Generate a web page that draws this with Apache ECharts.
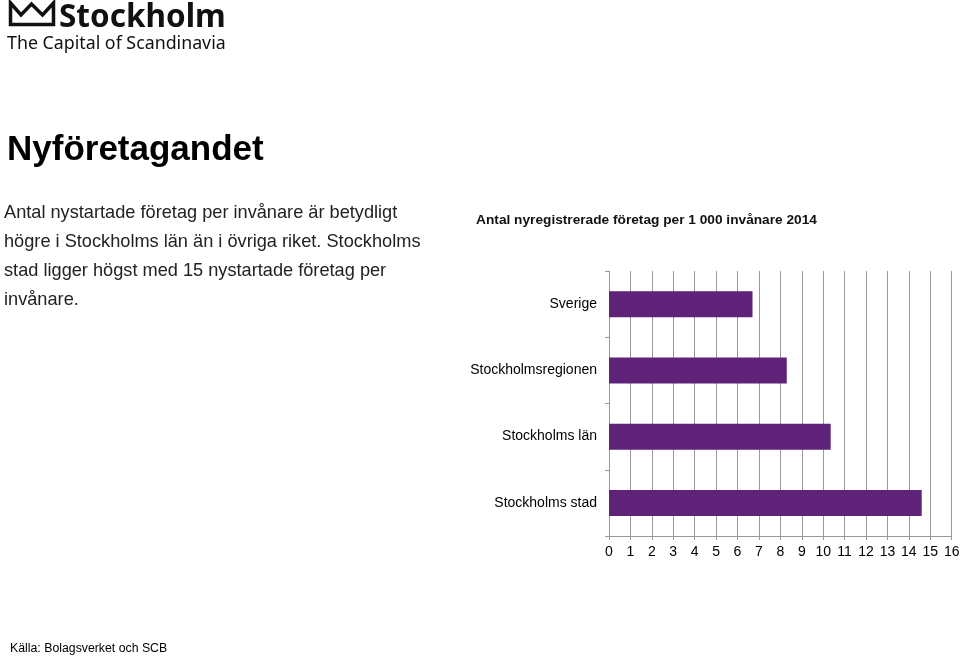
<!DOCTYPE html>
<html>
<head>
<meta charset="utf-8">
<style>
html,body{margin:0;padding:0;background:#fff;}
#chart{width:960px;height:658px;}
</style>
<script src="https://cdn.jsdelivr.net/npm/echarts@6/dist/echarts.min.js"></script>
</head>
<body>
<div id="chart"></div>
<script>
const categories = ['Sverige', 'Stockholmsregionen', 'Stockholms län', 'Stockholms stad'];
const values = [6.7, 8.3, 10.35, 14.6];
const xTicks = {min: 0, max: 16, interval: 1};
const headline = 'Nyföretagandet';
const paragraphLines = [
  'Antal nystartade företag per invånare är betydligt',
  'högre i Stockholms län än i övriga riket. Stockholms',
  'stad ligger högst med 15 nystartade företag per',
  'invånare.'
];
const chartTitle = 'Antal nyregistrerade företag per 1 000 invånare 2014';
const sourceText = 'Källa: Bolagsverket och SCB';

const font = '"Liberation Sans", Arial, sans-serif';
const chart = echarts.init(document.getElementById('chart'), null, {renderer: 'canvas'});

const graphics = [
  {type: 'polygon', shape: {points: [[10.5,3],[21,15],[31.5,4],[42.5,15],[53.5,3],[53.5,24.5],[10.5,24.5]]},
   style: {fill: 'none', stroke: '#111', lineWidth: 3.5, lineJoin: 'miter'}},
  {type: 'text', left: 59, top: 2, style: {text: 'Stockholm', font: 'bold 31.5px "Noto Sans", "Open Sans", sans-serif', fill: '#111'}},
  {type: 'text', left: 7, top: 35, style: {text: 'The Capital of Scandinavia', font: '17.8px "Noto Sans", "Open Sans", sans-serif', fill: '#111'}},
  {type: 'text', left: 7, top: 133, style: {text: headline, font: 'bold 35px ' + font, fill: '#000'}},
  {type: 'text', left: 10, top: 643, style: {text: sourceText, font: '12.3px ' + font, fill: '#000'}}
];
paragraphLines.forEach(function (line, i) {
  graphics.push({type: 'text', left: 4, top: 204 + i * 29, style: {text: line, font: '18.2px ' + font, fill: '#222'}});
});

chart.setOption({
  backgroundColor: '#fff',
  animation: false,
  title: {
    text: chartTitle,
    left: 641.5, top: 208, textAlign: 'center',
    textStyle: {fontFamily: font, fontSize: 13.7, fontWeight: 'bold', color: '#111'}
  },
  graphic: graphics,
  grid: {left: 609, right: 8.3, top: 271, bottom: 122, containLabel: false, outerBoundsMode: 'none'},
  xAxis: {
    type: 'value', min: xTicks.min, max: xTicks.max, interval: xTicks.interval,
    axisLine: {show: true, lineStyle: {color: '#999', width: 1}},
    axisTick: {show: true, length: 4, lineStyle: {color: '#999'}},
    axisLabel: {fontFamily: font, fontSize: 14, color: '#000', margin: 9},
    splitLine: {show: true, lineStyle: {color: '#999', width: 1}}
  },
  yAxis: {
    type: 'category', data: categories, inverse: true,
    axisLine: {show: true, lineStyle: {color: '#999', width: 1}},
    axisTick: {show: true, length: 4, lineStyle: {color: '#999'}},
    axisLabel: {fontFamily: font, fontSize: 14, color: '#000', margin: 12}
  },
  series: [{
    type: 'bar', data: values, barWidth: 26,
    itemStyle: {color: '#5e2378'}
  }]
});
</script>
</body>
</html>
